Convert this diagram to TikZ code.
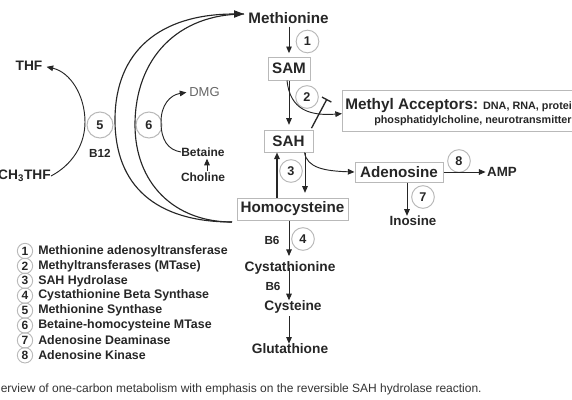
\documentclass[tikz,border=0pt]{standalone}
\usepackage{fontspec}
\setmainfont{Liberation Sans}
\usetikzlibrary{arrows.meta}
\begin{document}
\begin{tikzpicture}[x=0.75pt,y=-0.75pt,
  every node/.style={inner sep=0pt, text=black!85},
  mainlbl/.style={font=\bfseries\fontsize{11.4}{13.5}\selectfont},
  midlbl/.style={font=\bfseries\fontsize{10.3}{12}\selectfont},
  smalllbl/.style={font=\bfseries\fontsize{9}{11}\selectfont},
  vitlbl/.style={font=\bfseries\fontsize{8.8}{10}\selectfont},
  prodlbl/.style={font=\bfseries\fontsize{10}{12}\selectfont},
  boxed/.style={draw=gray!55, line width=0.75pt},
  num/.style={circle, draw=gray!55, line width=0.75pt, minimum size=17pt, font=\bfseries\fontsize{9.5}{11}\selectfont},
  bignum/.style={num, minimum size=19.5pt},
  legnum/.style={circle, draw=gray!55, line width=0.7pt, minimum size=11.5pt, font=\bfseries\fontsize{9}{10}\selectfont},
  legtxt/.style={anchor=west, font=\bfseries\fontsize{9.3}{11}\selectfont},
  arr/.style={-{Triangle[length=5pt,width=4.2pt]}, line width=0.7pt, draw=black!85},
  bigarr/.style={-{Triangle[length=7.5pt,width=5.5pt]}, line width=0.85pt, draw=black!85},
  arcline/.style={line width=0.85pt, draw=black!85},
  inhib/.style={-{Bar[width=8pt,line width=1pt]}, line width=1pt, draw=black!85}
]
\path[use as bounding box] (0,0) rectangle (572,400);
\clip (0,0) rectangle (572,400);

% ---------- central pathway ----------
\node[mainlbl] (met) at (288.5,18) {Methionine};
\node[mainlbl,boxed,minimum width=31.5pt,minimum height=17.25pt] (sam) at (289,68.5) {SAM};
\node[mainlbl,boxed,minimum width=36.75pt,minimum height=16.5pt] (sah) at (288.5,141) {SAH};
\node[mainlbl,boxed,minimum width=83.25pt,minimum height=16.5pt] (homo) at (292.5,209) {Homocysteine};
\node[mainlbl,boxed,minimum width=66pt,minimum height=15pt] (ado) at (399,172) {Adenosine};

\node[boxed,anchor=north west,minimum width=220pt,minimum height=30.75pt] (ma) at (342,90) {};
\node[anchor=base west] (ma1) at (345,109.5) {{\bfseries\fontsize{11.5}{13}\selectfont Methyl Acceptors:} {\bfseries\fontsize{8.1}{10}\selectfont DNA, RNA, proteins,}};
\node[anchor=base west, font=\bfseries\fontsize{8.1}{10}\selectfont] (ma2) at (374,123) {phosphatidylcholine, neurotransmitter};

\node[num] (c1) at (307.5,41.5) {1};
\node[num] (c2) at (307,97) {2};
\node[num] (c3) at (291,171) {3};
\node[num] (c8) at (459,161) {8};
\node[num] (c7) at (423,197) {7};
\node[num] (c4) at (303,239) {4};

\node[vitlbl] (b6a) at (272,240) {B6};
\node[vitlbl] (b6b) at (273,286) {B6};
\node[midlbl] (cysta) at (290,268) {Cystathionine};
\node[midlbl] (cys) at (293,307) {Cysteine};
\node[midlbl] (glu) at (290,349) {Glutathione};
\node[prodlbl] (ino) at (413,221) {Inosine};
\node[prodlbl] (amp) at (502,172) {AMP};

\coordinate (vx) at (289,0);
\coordinate (ux) at (277,0);
\coordinate (dx) at (305,0);
\coordinate (inh) at (327,99);

\draw[arr, shorten <=2pt, shorten >=2.5pt] (met.south -| vx) -- (sam.north -| vx);
\draw[arr, shorten >=3.5pt] (sam.south -| vx) -- (sah.north -| vx);
\draw[arr, line width=1.1pt] (homo.north -| ux) -- (sah.south -| ux);
\draw[arr, shorten >=3.5pt] (sah.south -| dx) -- (homo.north -| dx);
\draw[arr, shorten >=4pt] (homo.south -| vx) -- (cysta.north -| vx);
\draw[arr] (cysta.center -| vx) -- (cys.north -| vx);
\draw[arr, shorten <=2pt] (cys.south -| vx) -- (glu.north -| vx);
\draw[arr] ([xshift=6pt]ado.south) -- ([xshift=-4.5pt]ino.north);
\draw[arr, shorten >=1pt] (ado.east) -- (amp.west);

\draw[arr] ([xshift=-1.5pt]sam.south) .. controls (290,110) and (310,116) .. ([yshift=-2pt]ma.west);
\draw[inhib] ([xshift=-1.5pt,yshift=1pt]sah.north east) -- (inh);
\draw[arr] ([xshift=12pt]sah.south) .. controls (307,168) and (325,171) .. (ado.west);

% ---------- remethylation arcs ----------
\coordinate (hb) at (232,222);
\coordinate (mt) at (244,14);
\draw[bigarr] (hb) .. controls (156,222) and (115,186) .. (115,120) .. controls (115,51) and (160,14) .. (mt);
\draw[arcline] (hb) .. controls (174,222) and (135,183) .. (135,125) .. controls (135,58) and (178,14) .. (mt);

\node[midlbl] (thf) at (29,66) {THF};
\node[midlbl, anchor=east] (ch3) at (51,176) {CH\textsubscript{3}THF};
\node[bignum] (c5) at (100,125) {5};
\node[bignum] (c6) at (149,125) {6};
\node[vitlbl] (b12) at (100,153) {B12};
\node[font=\fontsize{9.75}{11}\selectfont, text=black!60] (dmg) at (204.5,92) {DMG};
\node[smalllbl] (bet) at (203,152) {Betaine};
\node[smalllbl] (cho) at (203,177) {Choline};

\draw[arr, shorten >=3pt] (ch3.east) .. controls (72,165) and (85,145) .. (85,122) .. controls (85,95) and (70,72) .. (thf.east);
\draw[arr, shorten >=2pt] (bet.west) .. controls (168,150) and (161,140) .. (161,122) .. controls (161,105) and (170,95) .. (dmg.west);
\draw[arr, shorten <=1pt, shorten >=1.5pt] ([xshift=3pt]cho.north) -- ([xshift=3pt]bet.south);

% ---------- legend ----------
\foreach \i/\t in {1/Methionine adenosyltransferase, 2/Methyltransferases (MTase), 3/SAH Hydrolase, 4/Cystathionine Beta Synthase, 5/Methionine Synthase, 6/Betaine-homocysteine MTase, 7/Adenosine Deaminase, 8/Adenosine Kinase}{
  \node[legnum] (l\i) at (25,{251+14.9*(\i-1)}) {\i};
  \node[legtxt] (lt\i) at (38,{251+14.9*(\i-1)}) {\t};
}

% ---------- caption ----------
\node[anchor=west, font=\fontsize{9}{11}\selectfont, text=black!80] (cap) at (0.5,389) {erview of one-carbon metabolism with emphasis on the reversible SAH hydrolase reaction.};
\end{tikzpicture}
\end{document}
